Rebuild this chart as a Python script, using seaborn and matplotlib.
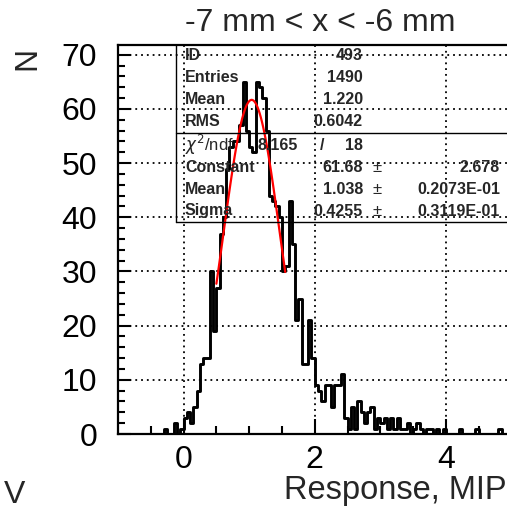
import numpy as np
import pandas as pd
import matplotlib
matplotlib.use("Agg")
import matplotlib.pyplot as plt
import seaborn as sns

# histogram: 120 bins of 0.05 from -1 to 5
bin_lo, bin_hi, bin_w = -1.0, 5.0, 0.05
counts = [
    # -1.0 .. -0.05
    0, 0, 0, 0, 0, 0, 0, 0, 0, 0, 0, 0, 0, 0, 1, 0, 0, 2, 0, 1,
    # 0.0 .. 0.95
    3, 4, 2, 5, 8, 13, 14, 14, 30, 19, 27, 37, 40, 49, 53, 54, 54, 57, 65, 56,
    # 1.0 .. 1.95
    53, 52, 65, 64, 62, 56, 44, 43, 42, 40, 30, 31, 43, 35, 21, 25, 13, 13, 21, 14,
    # 2.0 .. 2.95
    9, 8, 6, 9, 9, 5, 9, 9, 11, 3, 1, 5, 1, 6, 4, 2, 4, 5, 1, 3,
    # 3.0 .. 3.95
    2, 3, 1, 3, 1, 3, 1, 1, 2, 0, 1, 2, 1, 0, 1, 1, 0, 1, 0, 1,
    # 4.0 .. 4.95
    0, 0, 0, 0, 1, 0, 0, 0, 0, 1, 0, 0, 0, 0, 0, 0, 1, 0, 0, 0,
]

# gaussian fit shown in red
fit_const, fit_mean, fit_sigma = 61.68, 1.038, 0.4255
fit_lo, fit_hi = 0.5, 1.55

stats_rows = [("ID", "493"), ("Entries", "1490"), ("Mean", "1.220"), ("RMS", "0.6042")]
fit_rows = [("Constant", "61.68", "2.678"), ("Mean", "1.038", "0.2073E-01"),
            ("Sigma", "0.4255", "0.3119E-01")]
chi2, ndf = "8.165", "18"

centers = bin_lo + bin_w * (np.arange(len(counts)) + 0.5)
hist = pd.DataFrame({"x": centers, "n": counts})

xf = np.linspace(fit_lo, fit_hi, 60)
fit = pd.DataFrame({"x": xf, "y": fit_const * np.exp(-0.5 * ((xf - fit_mean) / fit_sigma) ** 2)})

sns.set_style("ticks")
plt.rcParams["font.family"] = ["Liberation Sans", "DejaVu Sans"]

W, H = 507, 509
fig = plt.figure(figsize=(W / 100, H / 100), dpi=100)
# frame: left 118 px, bottom 434 px, top 45 px, right edge beyond the image
ax = fig.add_axes([118 / W, (H - 434) / H, (511.5 - 118) / W, (434 - 45) / H])

sns.histplot(data=hist, x="x", weights="n", binwidth=bin_w, binrange=(bin_lo, bin_hi),
             element="step", fill=False, color="black", linewidth=2.1, ax=ax)
sns.lineplot(data=fit, x="x", y="y", color="red", linewidth=1.6, ax=ax)

ax.set_xlim(-1, 5)
ax.set_ylim(0, 71.8)
ax.set_xticks([0, 2, 4])
ax.set_xticks(np.arange(-0.5, 5, 0.5), minor=True)
ax.set_yticks(np.arange(0, 71, 10))
ax.set_yticks(np.arange(0, 72, 2), minor=True)
ax.set_xlabel("")
ax.set_ylabel("")
ax.grid(True, which="major", color="black", linestyle=(0, (1, 2.2)), linewidth=1.3)
ax.tick_params(which="both", direction="in", width=1.5, colors="black", labelsize=23)
ax.tick_params(axis="x", which="major", length=11, pad=8)
ax.tick_params(axis="x", which="minor", length=5.5)
ax.tick_params(axis="y", which="major", length=9, pad=15)
ax.tick_params(axis="y", which="minor", length=5)
for s in ax.spines.values():
    s.set_linewidth(1.6)
    s.set_color("black")

# stats box
def px(x, y):
    return x / W, 1 - y / H

box_l, box_b, box_m = 176, 222, 133
fig.add_artist(plt.Line2D([box_l / W, 1], [1 - box_b / H] * 2, color="black", lw=1.0))
fig.add_artist(plt.Line2D([box_l / W, 1], [1 - box_m / H] * 2, color="black", lw=1.0))
fig.add_artist(plt.Line2D([box_l / W] * 2, [1 - 45 / H, 1 - box_b / H], color="black", lw=1.0))

box_font = dict(fontsize=11.5, fontweight="bold", va="center")
row_y = [55, 77, 99, 121]
for (lab, val), y in zip(stats_rows, row_y):
    fig.text(*px(185, y), lab, ha="left", **box_font)
    fig.text(*px(363, y), val, ha="right", **box_font)

fig.text(*px(185, 145), r"$\chi^2$/ndf", ha="left", fontsize=12, va="center")
fig.text(*px(298, 145), chi2, ha="right", **box_font)
fig.text(*px(322, 145), "/", ha="center", **box_font)
fig.text(*px(363, 145), ndf, ha="right", **box_font)
for (lab, val, err), y in zip(fit_rows, [167, 189, 211]):
    fig.text(*px(185, y), lab, ha="left", **box_font)
    fig.text(*px(363, y), val, ha="right", **box_font)
    fig.text(*px(377, y), "\u00b1", ha="center", fontsize=12, va="center")
    fig.text(*px(500, y), err, ha="right", **box_font)

# titles
fig.text(*px(320, 23), "-7 mm < x < -6 mm", ha="center", va="center", fontsize=23)
fig.text(*px(27, 58), "N", ha="center", va="center", fontsize=23, rotation=90)
fig.text(*px(507, 490), "Response, MIP", ha="right", va="center", fontsize=23.5)
fig.text(*px(15, 495), "V", ha="center", va="center", fontsize=23)

fig.savefig("out.png", dpi=100)
